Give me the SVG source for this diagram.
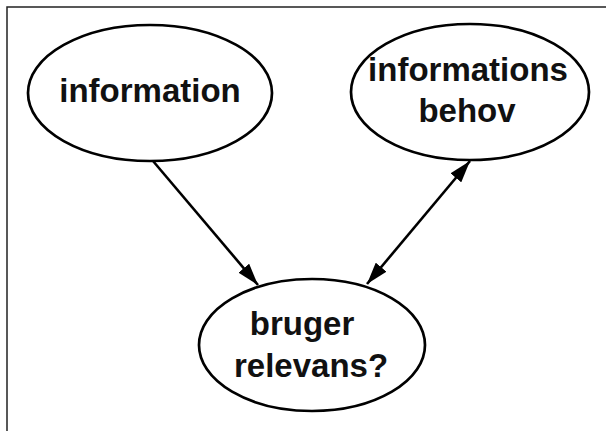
<svg xmlns="http://www.w3.org/2000/svg" width="606" height="431" viewBox="0 0 606 431">
<style>
.node ellipse{fill:#fff;stroke:#000;stroke-width:2.7}
.node text{font-family:"Liberation Sans",Arial,sans-serif;font-weight:bold;font-size:33px;fill:#111;text-anchor:middle}
.edge{stroke:#000;stroke-width:2.6;fill:none}
.frame{stroke:#222;stroke-width:1.5;fill:none}
</style>
<defs>
<marker id="ah" viewBox="0 0 22 14" refX="22" refY="7" markerWidth="22" markerHeight="14" markerUnits="userSpaceOnUse" orient="auto-start-reverse">
<path d="M0,0 L22,7 L0,14 Z" fill="#000"/>
</marker>
</defs>
<rect width="606" height="431" fill="#fff"/>
<path class="frame" d="M7,431 L7,7 L606,7"/>
<g id="connectors">
<line class="edge" x1="153" y1="161" x2="258" y2="285" marker-end="url(#ah)"/>
<line class="edge" x1="470" y1="161" x2="367" y2="284" marker-start="url(#ah)" marker-end="url(#ah)"/>
</g>
<g id="node-information" class="node">
<ellipse cx="150" cy="93" rx="122" ry="68"/>
<text x="150" y="102">information</text>
</g>
<g id="node-informationsbehov" class="node">
<ellipse cx="470" cy="92" rx="119" ry="68"/>
<text x="468" y="81">informations</text>
<text x="467" y="122">behov</text>
</g>
<g id="node-brugerrelevans" class="node">
<ellipse cx="312" cy="345" rx="113" ry="66"/>
<text x="302" y="335">bruger</text>
<text x="311" y="377">relevans?</text>
</g>
</svg>
